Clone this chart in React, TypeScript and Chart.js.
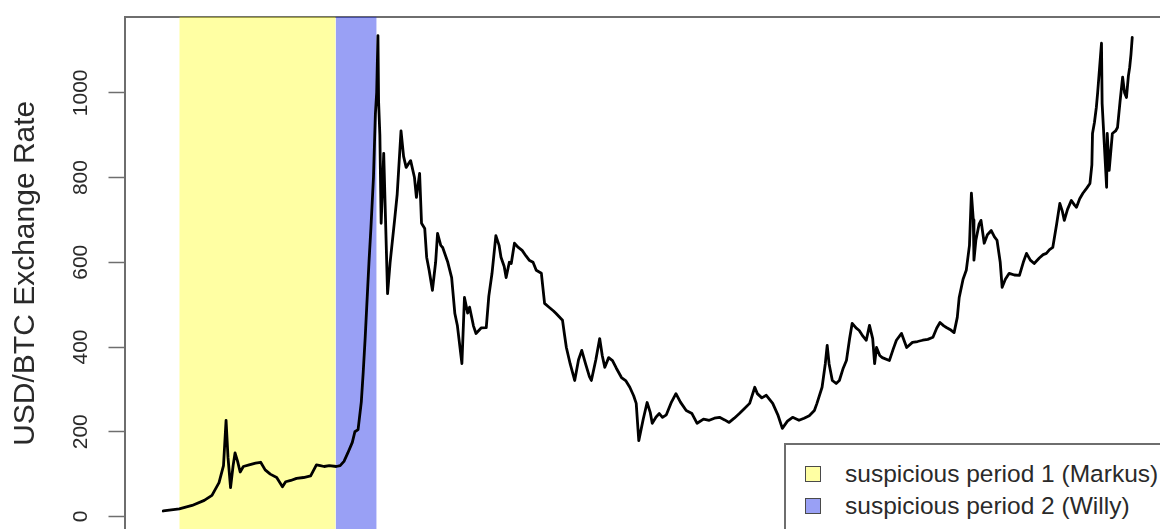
import React, { useEffect, useRef } from 'react';
import { Chart, registerables } from 'chart.js';

Chart.register(...registerables);

const DATES = [
  '2013-01-01','2013-01-26','2013-02-15','2013-03-06','2013-03-18','2013-03-29','2013-04-05','2013-04-09','2013-04-12','2013-04-16',
  '2013-04-20','2013-04-23','2013-04-27','2013-05-01','2013-05-06','2013-05-15','2013-05-25','2013-06-02','2013-06-09','2013-06-17',
  '2013-06-27','2013-07-06','2013-07-11','2013-07-19','2013-07-28','2013-08-08','2013-08-19','2013-08-28','2013-09-03','2013-09-09',
  '2013-09-17','2013-09-28','2013-10-04','2013-10-10','2013-10-16','2013-10-23','2013-10-27','2013-11-01','2013-11-06','2013-11-09',
  '2013-11-12','2013-11-15','2013-11-18','2013-11-21','2013-11-25','2013-11-28','2013-11-30','2013-12-02','2013-12-03','2013-12-05',
  '2013-12-07','2013-12-11','2013-12-17','2013-12-21','2013-12-28','2014-01-01','2014-01-07','2014-01-11','2014-01-15','2014-01-22',
  '2014-01-28','2014-01-31','2014-02-05','2014-02-08','2014-02-13','2014-02-16','2014-02-20','2014-02-25','2014-03-02','2014-03-05',
  '2014-03-10','2014-03-13','2014-03-21','2014-03-27','2014-04-01','2014-04-05','2014-04-12','2014-04-16','2014-04-21','2014-04-24',
  '2014-04-30','2014-05-04','2014-05-12','2014-05-20','2014-05-24','2014-05-29','2014-06-04','2014-06-09','2014-06-12','2014-06-17',
  '2014-06-20','2014-06-25','2014-06-28','2014-07-03','2014-07-09','2014-07-15','2014-07-21','2014-07-26','2014-08-01','2014-08-06',
  '2014-08-14','2014-08-19','2014-08-26','2014-09-02','2014-09-06','2014-09-16','2014-09-19','2014-09-22','2014-09-28','2014-10-05',
  '2014-10-11','2014-10-16','2014-10-22','2014-10-28','2014-10-31','2014-11-07','2014-11-13','2014-11-17','2014-11-21','2014-11-27',
  '2014-12-03','2014-12-09','2014-12-17','2014-12-24','2014-12-30','2015-01-05','2015-01-09','2015-01-13','2015-01-20','2015-01-26',
  '2015-01-31','2015-02-03','2015-02-09','2015-02-14','2015-02-19','2015-02-25','2015-03-05','2015-03-12','2015-03-19','2015-03-28',
  '2015-04-06','2015-04-14','2015-04-24','2015-05-03','2015-05-11','2015-05-19','2015-05-27','2015-06-03','2015-06-11','2015-06-19',
  '2015-06-27','2015-07-05','2015-07-13','2015-07-17','2015-07-24','2015-07-31','2015-08-10','2015-08-18','2015-08-25','2015-09-02',
  '2015-09-10','2015-09-20','2015-09-28','2015-10-06','2015-10-14','2015-10-18','2015-10-26','2015-10-31','2015-11-03','2015-11-06',
  '2015-11-11','2015-11-17','2015-11-22','2015-11-28','2015-12-03','2015-12-08','2015-12-12','2015-12-18','2015-12-23','2015-12-29',
  '2016-01-03','2016-01-08','2016-01-13','2016-01-16','2016-01-19','2016-01-24','2016-01-28','2016-02-08','2016-02-14','2016-02-19',
  '2016-02-27','2016-03-06','2016-03-15','2016-03-23','2016-03-31','2016-04-08','2016-04-16','2016-04-22','2016-04-27','2016-05-03',
  '2016-05-07','2016-05-14','2016-05-19','2016-05-24','2016-05-27','2016-06-02','2016-06-07','2016-06-12','2016-06-15','2016-06-18',
  '2016-06-19','2016-06-22','2016-06-27','2016-06-30','2016-07-05','2016-07-10','2016-07-16','2016-07-21','2016-07-25','2016-07-30',
  '2016-08-02','2016-08-07','2016-08-13','2016-08-21','2016-08-29','2016-09-04','2016-09-09','2016-09-15','2016-09-21','2016-09-29',
  '2016-10-05','2016-10-10','2016-10-15','2016-10-20','2016-10-26','2016-10-31','2016-11-04','2016-11-07','2016-11-12','2016-11-18',
  '2016-11-23','2016-11-26','2016-12-01','2016-12-06','2016-12-12','2016-12-17','2016-12-20','2016-12-21','2016-12-24','2016-12-27',
  '2016-12-29','2017-01-04','2017-01-05','2017-01-12','2017-01-13','2017-01-16','2017-01-21','2017-01-26','2017-01-29','2017-02-02',
  '2017-02-06','2017-02-09','2017-02-12','2017-02-15','2017-02-17','2017-02-19','2017-02-21'
];

const USD_BTC = [
  13, 18, 26, 38, 50, 80, 120, 227, 140, 68,
  120, 150, 130, 105, 118, 122, 126, 128, 110, 100,
  92, 70, 82, 85, 90, 92, 96, 122, 120, 118,
  120, 118, 120, 130, 150, 175, 200, 205, 270, 340,
  420, 510, 600, 680, 800, 950, 1000, 1135, 980, 900,
  692, 857, 526, 600, 700, 760, 910, 850, 824, 840,
  800, 753, 810, 692, 680, 612, 580, 534, 600, 668,
  640, 635, 600, 564, 479, 450, 361, 517, 480, 494,
  450, 432, 445, 446, 520, 574, 663, 640, 612, 590,
  564, 600, 597, 645, 635, 628, 615, 605, 600, 581,
  574, 503, 494, 485, 479, 463, 430, 399, 360, 321,
  370, 392, 360, 330, 321, 370, 420, 380, 352, 375,
  368, 350, 328, 320, 305, 285, 267, 179, 230, 269,
  245, 220, 235, 243, 234, 240, 270, 290, 270, 250,
  243, 220, 230, 227, 232, 234, 228, 222, 232, 243,
  255, 267, 305, 290, 280, 286, 267, 240, 208, 225,
  234, 227, 232, 238, 250, 267, 305, 360, 404, 360,
  321, 314, 321, 350, 368, 420, 456, 445, 439, 425,
  416, 451, 420, 361, 399, 380, 375, 368, 395, 416,
  432, 399, 411, 413, 416, 418, 423, 445, 458, 450,
  446, 440, 434, 470, 517, 560, 581, 640, 763, 700,
  605, 652, 690, 699, 645, 665, 675, 660, 652, 600,
  541, 560, 574, 570, 569, 600, 621, 605, 597, 610,
  618, 621, 630, 635, 690, 739, 720, 699, 725, 746,
  735, 730, 750, 763, 775, 786, 830, 904, 930, 966,
  1000, 1117, 975, 777, 904, 817, 904, 910, 918, 980,
  1037, 1000, 989, 1040, 1060, 1090, 1131
];

const Y_TICKS = [0, 200, 400, 600, 800, 1000];
const Y_TITLE = 'USD/BTC Exchange Rate';
const PERIOD_LABELS = ['suspicious period 1 (Markus)', 'suspicious period 2 (Willy)'];
const PERIOD_STARTS = ['2013-01-26', '2013-09-27'];
const PERIOD_ENDS = ['2013-09-27', '2013-11-30'];
const PERIOD_COLORS = ['rgba(255,255,0,0.36)', 'rgba(29,44,233,0.45)'];

const FONT = '"Liberation Sans", Arial, Helvetica, sans-serif';
const INK = '#2a2a2a';
const FRAME = '#6e6e6e';

const toDay = (s: string) => Date.parse(s + 'T00:00:00Z') / 86400000;

export default function App() {
  const ref = useRef<HTMLCanvasElement | null>(null);

  useEffect(() => {
    if (!ref.current) return;
    const xs = DATES.map(toDay);
    const xLo = Math.min(...xs);
    const xHi = Math.max(...xs);
    const yLo = Math.min(...USD_BTC);
    const yHi = Math.max(...USD_BTC);
    const xPad = 0.04 * (xHi - xLo);
    const yPad = 0.04 * (yHi - yLo);
    const yTop = yHi + yPad;
    const yBottom = yLo - yPad;

    const series = xs.map((x, i) => ({ x, y: USD_BTC[i] }));
    const periods = PERIOD_LABELS.map((label, i) => ({
      type: 'line' as const,
      label,
      data: [
        { x: toDay(PERIOD_STARTS[i]), y: yTop },
        { x: toDay(PERIOD_ENDS[i]), y: yTop },
      ],
      fill: 'start' as const,
      backgroundColor: PERIOD_COLORS[i],
      borderWidth: 0,
      pointRadius: 0,
      order: 1 + i,
    }));

    const chart = new Chart(ref.current, {
      type: 'line',
      data: {
        datasets: [
          {
            label: Y_TITLE,
            data: series,
            borderColor: '#000',
            borderWidth: 2.8,
            borderJoinStyle: 'round',
            borderCapStyle: 'round',
            pointRadius: 0,
            fill: false,
            tension: 0,
            order: 0,
          },
          ...periods,
        ] as any,
      },
      options: {
        animation: false,
        responsive: false,
        events: [],
        layout: { padding: { left: 0, top: 16, right: 29, bottom: 30 } },
        plugins: {
          legend: { display: false },
          tooltip: { enabled: false },
        },
        scales: {
          x: {
            type: 'linear',
            position: 'top',
            min: xLo - xPad,
            max: xHi + xPad,
            ticks: { display: false },
            grid: { display: false },
            border: { display: true, color: FRAME, width: 2 },
            afterFit: (s: any) => { s.height = 0; },
          },
          y: {
            type: 'linear',
            min: yBottom,
            max: yTop,
            afterBuildTicks: (s: any) => { s.ticks = Y_TICKS.map((v) => ({ value: v })); },
            afterFit: (s: any) => { s.width = 124.5; },
            border: { display: true, color: FRAME, width: 2 },
            grid: {
              display: true,
              drawOnChartArea: false,
              drawTicks: true,
              tickLength: 16,
              tickWidth: 1.5,
              tickColor: FRAME,
            },
            ticks: {
              minRotation: 90,
              maxRotation: 90,
              crossAlign: 'center',
              padding: 4,
              color: INK,
              font: { family: FONT, size: 21 },
              callback: (v: any) => String(v),
            },
            title: {
              display: true,
              text: Y_TITLE,
              color: INK,
              font: { family: FONT, size: 30 },
              padding: { top: 8, bottom: 0 },
            },
          },
        },
      } as any,
    });
    return () => chart.destroy();
  }, []);

  return (
    <div style={{ position: 'fixed', left: 0, top: 0, width: '100vw', height: '100vh', overflow: 'hidden', background: '#fff' }}>
      <canvas ref={ref} width={1200} height={560} style={{ position: 'absolute', left: 0, top: 0, width: 1200, height: 560 }} />
      <div
        style={{
          position: 'absolute', left: 784, top: 443, width: 420, height: 120,
          boxSizing: 'border-box', border: `2px solid ${FRAME}`, background: '#fff',
          fontFamily: FONT, fontSize: 24.5, color: INK,
        }}
      >
        {PERIOD_LABELS.map((label, i) => (
          <div
            key={label}
            style={{ position: 'absolute', left: 19, top: 14 + 32 * i, height: 30, display: 'flex', alignItems: 'center', whiteSpace: 'nowrap' }}
          >
            <span style={{ display: 'inline-block', width: 16, height: 16, boxSizing: 'border-box', border: '1.5px solid #4a4a4a', background: PERIOD_COLORS[i], marginRight: 24 }} />
            <span>{label}</span>
          </div>
        ))}
      </div>
    </div>
  );
}
